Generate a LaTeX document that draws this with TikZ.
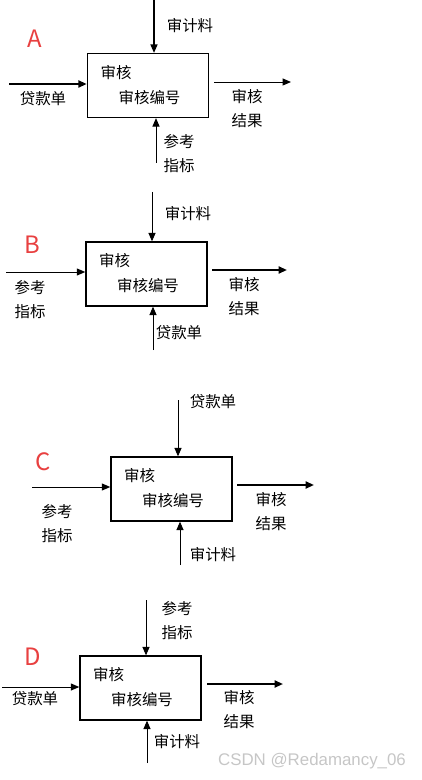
\documentclass[tikz,border=0pt]{standalone}
\usepackage{fontspec}
\setmainfont{Noto Sans CJK SC}
\newfontfamily\wmfont{Liberation Sans}
\usepackage{tikz}
\usetikzlibrary{positioning,arrows.meta,calc}
\definecolor{tagred}{RGB}{232,64,64}
\tikzset{
	idef/.style={x=0.025cm,y=-0.025cm,>={Triangle[length=6pt,width=5pt]}},
	procbox/.style={rectangle,draw,line width=0.9pt,minimum width=3.03cm,minimum height=1.6cm,inner sep=0pt},
	flow/.style={->,line width=0.7pt},
	mainflow/.style={->,line width=1.4pt},
	flowlabel/.style={inner sep=0pt,align=left,font=\fontsize{11}{17}\selectfont},
	tag/.style={inner sep=0pt,text=tagred,font=\fontsize{17}{17}\selectfont}
}

\begin{document}
\begin{tikzpicture}[idef]
	\useasboundingbox (0,0) rectangle (421,780);
	
	% A
	\node[tag] (tagA) at (35,39) {A};
	\node[procbox] (boxA) at (148,85.5) {};
	\node[flowlabel] (A-name) at ([shift={(-32,-13)}]boxA.center) {审核};
	\node[flowlabel] (A-num) at ([shift={(1.5,12)}]boxA.center) {审核编号};
	\coordinate (A-ctrl) at (154,0);
	\coordinate (A-in) at (9,84);
	\coordinate (A-out0) at (214,82);
	\coordinate (A-out) at (291,82);
	\coordinate (A-mech) at (156,163);
	\draw[flow,line width=1pt] (A-ctrl) -- (A-ctrl |- boxA.north);
	\draw[mainflow] (A-in) -- (A-in -| boxA.west);
	\draw[flow] (A-out0) -- (A-out);
	\draw[flow] (A-mech) -- (A-mech |- boxA.south);
	\node[flowlabel] (A-ctrl-l) at (190,26) {审计料};
	\node[flowlabel] (A-in-l) at (43,99) {贷款单};
	\node[flowlabel] (A-out-l) at (247,109) {审核\\结果};
	\node[flowlabel] (A-mech-l) at (179,153.5) {参考\\指标};
	
	% B
	\node[tag] (tagB) at (32,245) {B};
	\node[procbox] (boxB) at (146.5,274) {};
	\node[flowlabel] (B-name) at ([shift={(-32,-13)}]boxB.center) {审核};
	\node[flowlabel] (B-num) at ([shift={(1.5,12)}]boxB.center) {审核编号};
	\coordinate (B-ctrl) at (152,192);
	\coordinate (B-in) at (6,272);
	\coordinate (B-out0) at (212,270);
	\coordinate (B-out) at (287,270);
	\coordinate (B-mech) at (153,350);
	\draw[flow] (B-ctrl) -- (B-ctrl |- boxB.north);
	\draw[flow] (B-in) -- (B-in -| boxB.west);
	\draw[mainflow] (B-out0) -- (B-out);
	\draw[flow] (B-mech) -- (B-mech |- boxB.south);
	\node[flowlabel] (B-ctrl-l) at (188,214) {审计料};
	\node[flowlabel] (B-in-l) at (30,299.5) {参考\\指标};
	\node[flowlabel] (B-out-l) at (244,296.5) {审核\\结果};
	\node[flowlabel] (B-mech-l) at (179,333) {贷款单};
	
	% C
	\node[tag] (tagC) at (43,462) {C};
	\node[procbox] (boxC) at (171.5,489) {};
	\node[flowlabel] (C-name) at ([shift={(-32,-13)}]boxC.center) {审核};
	\node[flowlabel] (C-num) at ([shift={(1.5,12)}]boxC.center) {审核编号};
	\coordinate (C-ctrl) at (178,400);
	\coordinate (C-in) at (32,487);
	\coordinate (C-out0) at (237,485);
	\coordinate (C-out) at (314,485);
	\coordinate (C-mech) at (180,565);
	\draw[flow] (C-ctrl) -- (C-ctrl |- boxC.north);
	\draw[flow] (C-in) -- (C-in -| boxC.west);
	\draw[mainflow] (C-out0) -- (C-out);
	\draw[flow] (C-mech) -- (C-mech |- boxC.south);
	\node[flowlabel] (C-ctrl-l) at (213,402) {贷款单};
	\node[flowlabel] (C-in-l) at (57,523.5) {参考\\指标};
	\node[flowlabel] (C-out-l) at (271,511.5) {审核\\结果};
	\node[flowlabel] (C-mech-l) at (213,555) {审计料};
	
	% D
	\node[tag] (tagD) at (33,657) {D};
	\node[procbox] (boxD) at (140.5,688) {};
	\node[flowlabel] (D-name) at ([shift={(-32,-13)}]boxD.center) {审核};
	\node[flowlabel] (D-num) at ([shift={(1.5,12)}]boxD.center) {审核编号};
	\coordinate (D-ctrl) at (146,600);
	\coordinate (D-in) at (2,687);
	\coordinate (D-out0) at (207,684);
	\coordinate (D-out) at (283,684);
	\coordinate (D-mech) at (147,763);
	\draw[flow] (D-ctrl) -- (D-ctrl |- boxD.north);
	\draw[flow] (D-in) -- (D-in -| boxD.west);
	\draw[mainflow] (D-out0) -- (D-out);
	\draw[flow] (D-mech) -- (D-mech |- boxD.south);
	\node[flowlabel] (D-ctrl-l) at (177,620.5) {参考\\指标};
	\node[flowlabel] (D-in-l) at (35,699) {贷款单};
	\node[flowlabel] (D-out-l) at (239,710) {审核\\结果};
	\node[flowlabel] (D-mech-l) at (177,742) {审计料};
	
	\node[inner sep=0pt,text=gray!45,font=\wmfont\fontsize{12}{12}\selectfont] (mark) at (312,761) {CSDN @Redamancy\_06};
\end{tikzpicture}
\end{document}
